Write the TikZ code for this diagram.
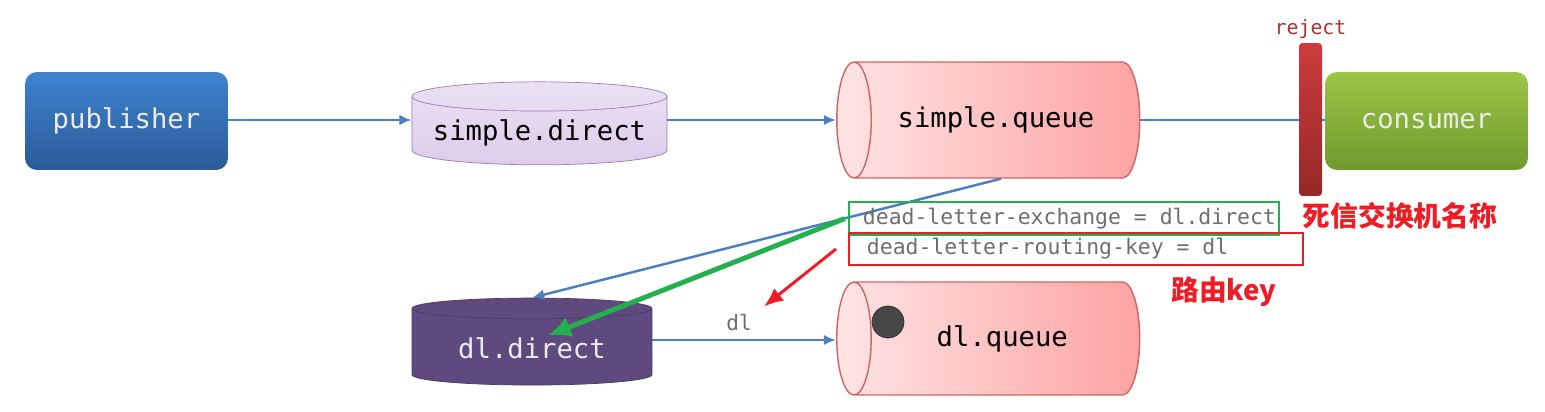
\documentclass[tikz,border=0pt]{standalone}
\usepackage{fontspec}
\setmonofont{DejaVu Sans Mono}
\newfontfamily\cjk{Noto Sans CJK SC}
\usepackage{tikz}
\usetikzlibrary{shapes.geometric,  % cylindres
           arrows.meta,
           calc,
           positioning}

\definecolor{flowblue}{HTML}{4A7FC0}
\definecolor{pubtop}{HTML}{3F83CF}
\definecolor{pubbot}{HTML}{2A5B98}
\definecolor{contop}{HTML}{9CC645}
\definecolor{conbot}{HTML}{6E992D}
\definecolor{sdfill}{HTML}{DCCDEB}
\definecolor{sdline}{HTML}{9A7BB5}
\definecolor{ddfill}{HTML}{5E4A7E}
\definecolor{qleft}{HTML}{FFE4E4}
\definecolor{qright}{HTML}{FCA3A3}
\definecolor{qline}{HTML}{D06464}
\definecolor{bartop}{HTML}{CC3B3B}
\definecolor{barbot}{HTML}{952828}
\definecolor{okgreen}{HTML}{22B14C}
\definecolor{hotred}{HTML}{EE1C24}
\definecolor{codegray}{HTML}{6E6E6E}

\begin{document}
\begin{tikzpicture}[x=0.02cm,y=-0.02cm,
  mono/.style={font=\ttfamily\fontsize{15.5}{18}\selectfont},
  client/.style={rounded corners=0.24cm, minimum width=4.06cm, minimum height=1.96cm, text=white!92!black, mono},
  exch/.style={cylinder, shape border rotate=90, aspect=0.13, mono},
  queue/.style={cylinder, shape border rotate=180, aspect=0.9, draw=qline, line width=0.8pt,
                left color=qleft, right color=qright, minimum width=2.32cm, minimum height=6.06cm, mono},
  flow/.style={flowblue, line width=1.4pt, -{Latex[length=7pt,width=6pt]}},
  note/.style={draw, line width=1.1pt, minimum height=0.53cm, inner xsep=0.28cm, anchor=west,
               text=codegray, font=\ttfamily\fontsize{12.2}{14}\selectfont},
  tag/.style={text=hotred, font=\cjk\bfseries\fontsize{15.8}{18}\selectfont}]
\useasboundingbox (0,0) rectangle (1545,412);

% ligne du haut
\node[client, top color=pubtop, bottom color=pubbot](Pub) at (126.5,121){publisher};
\node[exch, draw=sdline, top color=sdfill!60!white, bottom color=sdfill, minimum width=5.1cm, minimum height=1.66cm](SD) at (539.5,133){simple.direct};
\node[queue](SQ) at (1001,120){\hspace{-0.2cm}simple.queue};
\node[client, top color=contop, bottom color=conbot](Con) at (1426.5,121){consumer};
\draw[flowblue, line width=1.4pt](SQ.east)--(SQ.east -| Con.west);
\node[rounded corners=2pt, top color=bartop, bottom color=barbot, minimum width=0.46cm, minimum height=3.06cm, inner sep=0pt](Rej) at (1310.5,119.5){};
\node[text=bartop!85!black, font=\ttfamily\fontsize{11.3}{13}\selectfont, above=-0.05cm of Rej](RL){reject};
\draw[flow](Pub.east |- 0,120)--(SD.west |- 0,120);
\draw[flow](SD.east |- SQ.west)--(SQ.west);

% ligne du bas
\node[exch, draw=ddfill!80!black, fill=ddfill, text=white!92!black, minimum width=4.8cm, minimum height=1.74cm](DD) at (532,348.5){dl.direct};
\node[queue, minimum width=2.26cm](DQ) at (1001,338.5){\hspace{0.05cm}dl.queue};
\node[circle, fill=black!72, draw=black!80, minimum size=0.64cm, inner sep=0pt](Dot) at (888,322){};
\node[text=codegray, font=\ttfamily\fontsize{12}{14}\selectfont](DL) at (739,323){dl};
\draw[flow](DD.east |- 0,340)--(DQ.west |- 0,340);
\draw[flow](SQ.south)--(DD.north);

% paramètres de la file
\node[note, draw=okgreen](GB) at (848,218.5){\makebox[8.04cm][l]{dead-letter-exchange = dl.direct}};
\node[note, draw=hotred](RB) at (848,249){\makebox[8.52cm][l]{\hspace{0.08cm}dead-letter-routing-key = dl}};
\draw[okgreen, line width=2.8pt, -{Latex[length=13pt,width=12pt]}]($(GB.west)+(-3,0)$)--($(DD.center)+(16,-13)$);
\draw[hotred, line width=1.7pt, -{Latex[length=11pt,width=9pt]}]($(RB.west)+(-12,0)$)--($(DL.north east)+(6,-2)$);
\node[tag](T1) at (1400,216){死信交换机名称};
\node[tag](T2) at (1224,292){路由key};
\end{tikzpicture}
\end{document}
